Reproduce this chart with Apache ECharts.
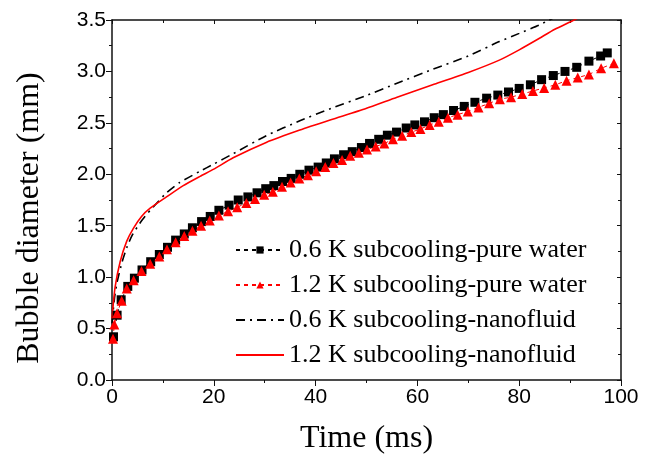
<!DOCTYPE html>
<html>
<head>
<meta charset="utf-8">
<script src="https://cdn.jsdelivr.net/npm/echarts@6/dist/echarts.min.js"></script>
<style>html,body{margin:0;padding:0;background:#fff;}#c{width:651px;height:460px;}</style>
</head>
<body>
<div id="c"></div>
<script>
// Series names
const seriesNames = [
  '0.6 K subcooling-pure water',
  '1.2 K subcooling-pure water',
  '0.6 K subcooling-nanofluid',
  '1.2 K subcooling-nanofluid'
];
// 0.6 K pure water (black squares)
const t06w = [0.3,1.0,1.8,3.1,4.4,5.9,7.6,9.3,10.9,12.5,14.2,15.8,17.6,19.3,21.0,23.0,24.8,26.7,28.5,30.2,31.8,33.5,35.2,36.9,38.7,40.5,42.1,43.7,45.5,47.2,49.0,50.6,52.4,54.1,55.9,57.8,59.5,61.4,63.3,65.1,67.1,69.2,71.3,73.6,75.8,77.9,80.0,82.2,84.4,86.7,89.0,91.3,93.7,96.0,97.3];
const d06w = [0.42,0.63,0.78,0.91,0.99,1.07,1.15,1.22,1.29,1.36,1.42,1.48,1.54,1.59,1.65,1.70,1.75,1.78,1.82,1.86,1.89,1.93,1.96,2.00,2.04,2.07,2.11,2.15,2.19,2.22,2.26,2.30,2.34,2.38,2.41,2.45,2.48,2.51,2.55,2.58,2.62,2.66,2.70,2.74,2.77,2.80,2.835,2.87,2.92,2.96,3.00,3.04,3.10,3.15,3.18];
// 1.2 K pure water (red triangles)
const t12w = [0.2,0.45,1.0,1.9,2.9,4.25,5.8,7.5,9.3,10.8,12.5,14.2,15.8,17.5,19.2,21.0,22.8,24.6,26.4,28.1,29.9,31.6,33.4,35.1,36.8,38.5,40.1,41.9,43.5,45.2,46.8,48.5,50.1,51.8,53.5,55.2,57.0,58.8,60.6,62.4,64.2,66.0,67.9,69.9,72.0,74.1,76.2,78.4,80.6,82.7,84.9,87.1,89.3,91.5,93.7,96.1,98.6];
const d12w = [0.40,0.54,0.65,0.77,0.89,0.97,1.06,1.13,1.20,1.27,1.34,1.40,1.45,1.50,1.55,1.60,1.64,1.68,1.72,1.76,1.80,1.83,1.88,1.92,1.96,1.99,2.03,2.07,2.11,2.14,2.18,2.21,2.24,2.27,2.30,2.34,2.375,2.41,2.44,2.48,2.51,2.55,2.58,2.61,2.65,2.69,2.73,2.75,2.78,2.81,2.84,2.87,2.91,2.94,2.97,3.03,3.08];
// 0.6 K nanofluid (black dash-dot)
const t06n = [0,0.5,1,2,3,4,5,6,7.5,9,10.7,13.3,17.3,20,23.8,30.3,36.9,43,49.9,56,63,70,76.1,80,83.9,85.5,88,90];
const d06n = [0.55,0.80,0.95,1.15,1.30,1.41,1.49,1.56,1.65,1.73,1.82,1.92,2.03,2.10,2.20,2.375,2.52,2.64,2.765,2.885,3.02,3.15,3.29,3.37,3.45,3.49,3.55,3.60];
// 1.2 K nanofluid (red solid)
const t12n = [0,0.6,1.6,2.9,4.2,5.8,7.5,10.7,14,17.3,20,23.8,30.3,36.9,43,49.9,56,63,70,76.1,80,83.9,87,90.8,93];
const d12n = [0.60,0.90,1.15,1.35,1.475,1.59,1.67,1.78,1.89,1.98,2.05,2.16,2.31,2.43,2.53,2.64,2.75,2.87,2.99,3.11,3.21,3.32,3.41,3.50,3.56];
// Axis ticks
const xTicks = {min: 0, max: 100, interval: 20};
const yTicks = {min: 0, max: 3.5, interval: 0.5};

const zip = (a, b) => a.map((v, i) => [v, b[i]]);
const chart = echarts.init(document.getElementById('c'), null, {renderer: 'canvas'});
const axisColor = '#111';
const labelFont = {fontFamily: 'Liberation Sans, Arial, sans-serif', fontSize: 21, color: '#000'};
const serif = 'Liberation Serif, Times New Roman, serif';

chart.setOption({
  animation: false,
  backgroundColor: '#fff',
  grid: {left: 112, right: 30, top: 20, bottom: 77, containLabel: false},
  legend: {
    orient: 'vertical', left: 230, top: 232, itemGap: 9, itemWidth: 48, itemHeight: 9,
    textStyle: {fontFamily: serif, fontSize: 26, color: '#000'},
    data: [
      {name: seriesNames[0]},
      {name: seriesNames[1]},
      {name: seriesNames[2], itemStyle: {opacity: 0}},
      {name: seriesNames[3], itemStyle: {opacity: 0}}
    ]
  },
  xAxis: [{
    type: 'value', min: xTicks.min, max: xTicks.max, interval: xTicks.interval,
    name: 'Time (ms)', nameLocation: 'middle', nameGap: 43,
    nameTextStyle: {fontFamily: serif, fontSize: 32, color: '#000'},
    axisLine: {show: true, onZero: false, lineStyle: {color: axisColor, width: 1.5}},
    axisTick: {show: true, inside: false, length: 6, lineStyle: {color: axisColor, width: 1}},
    minorTick: {show: true, splitNumber: 2, length: 3, lineStyle: {color: axisColor, width: 1}},
    axisLabel: Object.assign({margin: 7}, labelFont),
    splitLine: {show: false}
  }, {
    type: 'value', position: 'top', min: xTicks.min, max: xTicks.max, interval: xTicks.interval,
    axisLine: {show: true, onZero: false, lineStyle: {color: axisColor, width: 1.5}},
    axisTick: {show: true, inside: true, length: 4, lineStyle: {color: axisColor, width: 1}},
    minorTick: {show: true, splitNumber: 2, length: 3, lineStyle: {color: axisColor, width: 1}},
    axisLabel: {show: false}, splitLine: {show: false}
  }],
  yAxis: [{
    type: 'value', min: yTicks.min, max: yTicks.max, interval: yTicks.interval,
    name: 'Bubble diameter (mm)', nameLocation: 'middle', nameGap: 66,
    nameTextStyle: {fontFamily: serif, fontSize: 32, color: '#000', padding: [0, 36, 0, 0]},
    axisLine: {show: true, onZero: false, lineStyle: {color: axisColor, width: 1.5}},
    axisTick: {show: true, inside: false, length: 6, lineStyle: {color: axisColor, width: 1}},
    minorTick: {show: true, splitNumber: 2, length: 3, lineStyle: {color: axisColor, width: 1}},
    axisLabel: Object.assign({margin: 6, formatter: v => v.toFixed(1)}, labelFont),
    splitLine: {show: false}
  }, {
    type: 'value', position: 'right', min: yTicks.min, max: yTicks.max, interval: yTicks.interval,
    axisLine: {show: true, onZero: false, lineStyle: {color: axisColor, width: 1.5}},
    axisTick: {show: true, inside: true, length: 4, lineStyle: {color: axisColor, width: 1}},
    minorTick: {show: true, splitNumber: 2, length: 3, lineStyle: {color: axisColor, width: 1}},
    axisLabel: {show: false}, splitLine: {show: false}
  }],
  series: [{
    name: seriesNames[0], type: 'line', data: zip(t06w, d06w),
    symbol: 'rect', symbolSize: 9, showAllSymbol: true,
    itemStyle: {color: '#000'},
    lineStyle: {color: '#000', width: 1, type: [4, 4]}
  }, {
    name: seriesNames[1], type: 'line', data: zip(t12w, d12w),
    symbol: 'triangle', symbolSize: 10, showAllSymbol: true,
    itemStyle: {color: '#ff0000'},
    lineStyle: {color: '#ff0000', width: 1, type: [4, 4]}
  }, {
    name: seriesNames[2], type: 'line', data: zip(t06n, d06n),
    symbol: 'none', smooth: 0.2, clip: true,
    itemStyle: {color: '#000'},
    lineStyle: {color: '#000', width: 1.6, type: [9, 5, 2, 5]}
  }, {
    name: seriesNames[3], type: 'line', data: zip(t12n, d12n),
    symbol: 'none', smooth: 0.2, clip: true,
    itemStyle: {color: '#ff0000'},
    lineStyle: {color: '#ff0000', width: 1.6}
  }]
});
</script>
</body>
</html>
